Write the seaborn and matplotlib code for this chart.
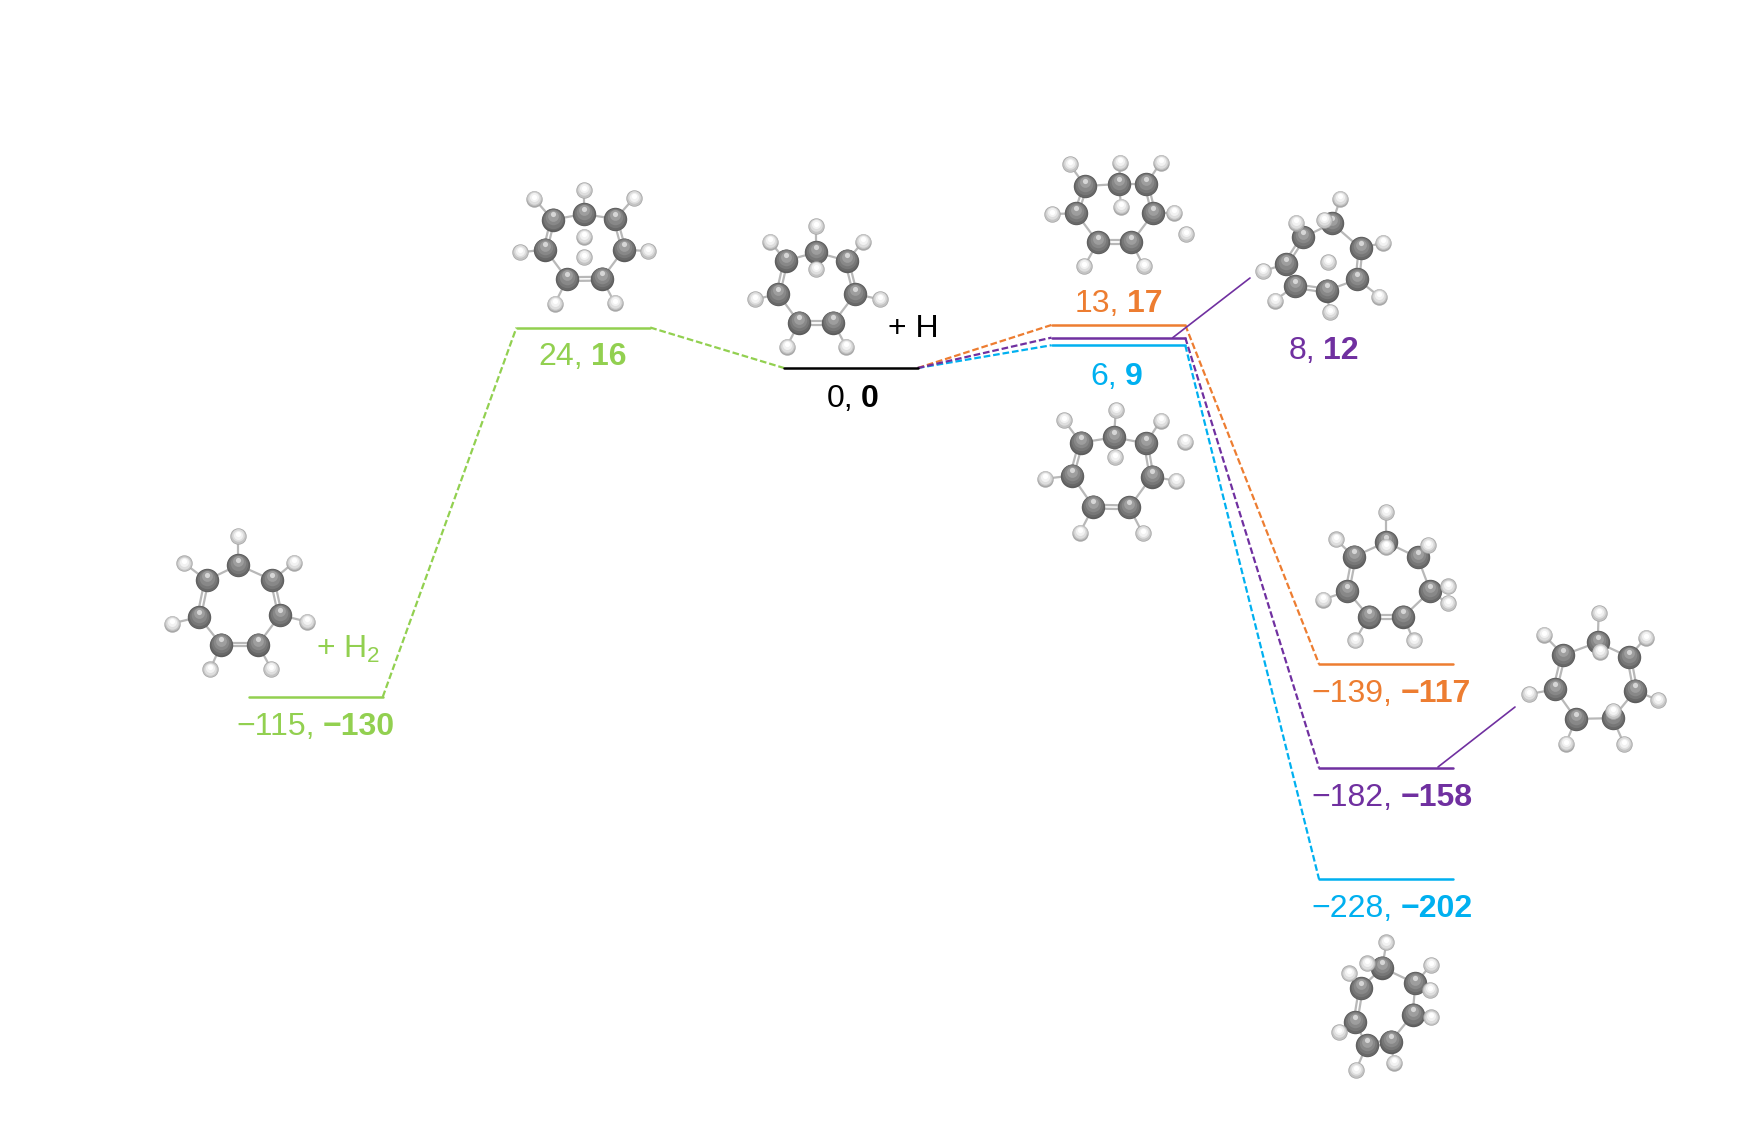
import matplotlib
matplotlib.use("Agg")
import matplotlib.pyplot as plt
import numpy as np
import pandas as pd
import seaborn as sns

# ---------- energies ----------
level_stage = [0, 1, 2, 3, 3, 3, 4, 4, 4]
first_value = [-115, 24, 0, 13, 8, 6, -139, -182, -228]
second_value = [-130, 16, 0, 17, 12, 9, -117, -158, -202]
level_hue = ["green", "green", "black", "orange", "purple", "blue", "orange", "purple", "blue"]
connect_from = [0, 1, 2, 2, 2, 3, 4, 5]
connect_to = [1, 2, 5, 3, 4, 6, 7, 8]
connect_hue = ["green", "green", "blue", "orange", "purple", "orange", "purple", "blue"]

palette = {"green": "#92D050", "orange": "#ED7D31", "purple": "#7030A0",
           "blue": "#00B0F0", "black": "#000000"}

# ---------- scales of the diagram ----------
W, H = 1762, 1142
STAGE_PX, STAGE_X0, LEVEL_W = 267.5, 249.0, 0.5
UNIT_PX, ZERO_Y = 2.53, 368.0


def sx(px):
    return (np.asarray(px, dtype=float) - STAGE_X0) / STAGE_PX


def sy(py):
    return (ZERO_Y - np.asarray(py, dtype=float)) / UNIT_PX


# ---------- label placement (split x, baseline y) ----------
label_split = [323, 591, 861, 1127, 1323, 1125, 1400.7, 1400.7, 1400.7]
label_base = [735, 365, 407, 312, 359, 385, 702, 806.4, 916.8]

# ---------- molecules ----------
frames = {"a": (150, 170, 2.613, 2.613), "b": (740, 140, 2.23, 3.0), "c": (1250, 500, 3.0, 2.613)}
molecules = [
    ("a", [(231, 1032), (320, 1072), (340, 1163), (282, 1240), (186, 1240), (128, 1168), (148, 1072)],
     [(231, 957, 0), (375, 1026, 1), (410, 1180, 2), (317, 1304, 3), (157, 1305, 4), (57, 1185, 5), (90, 1028, 6)],
     [(1, 2), (3, 4), (5, 6)]),
    ("a", [(1133, 115), (1216, 128), (1238, 208), (1181, 284), (1090, 285), (1033, 208), (1052, 130)],
     [(1133, 52, 0), (1264, 74, 1), (1302, 212, 2), (1214, 347, 3), (1058, 349, 4), (968, 215, 5), (1004, 75, 6),
      (1133, 174, None), (1133, 227, None)],
     [(1, 2), (3, 4), (5, 6)]),
    ("b", [(170, 337), (238, 362), (257, 462), (208, 548), (132, 548), (85, 462), (102, 362)],
     [(170, 258, 0), (275, 305, 1), (312, 478, 2), (237, 620, 3), (104, 620, 4), (34, 478, 5), (67, 305, 6),
      (170, 387, 0)],
     [(1, 2), (3, 4), (5, 6)]),
    ("b", [(845, 132), (906, 132), (922, 220), (873, 307), (798, 307), (750, 220), (770, 138)],
     [(848, 68, 0), (938, 68, 1), (967, 218, 2), (900, 378, 3), (768, 378, 4), (696, 222, 5), (735, 73, 6),
      (850, 200, 0), (994, 282, None)],
     [(1, 2), (3, 4), (5, 6)]),
    ("b", [(834, 892), (905, 910), (918, 1010), (868, 1102), (788, 1100), (740, 1007), (760, 908)],
     [(838, 810, 0), (938, 842, 1), (972, 1022, 2), (898, 1180, 3), (758, 1178, 4), (680, 1016, 5), (722, 840, 6),
      (836, 952, 0), (992, 905, None)],
     [(1, 2), (3, 4), (5, 6)]),
    ("b", [(1320, 250), (1384, 325), (1377, 418), (1308, 452), (1237, 438), (1217, 372), (1256, 292)],
     [(1339, 176, 0), (1302, 240, 0), (1434, 308, 1), (1426, 470, 2), (1315, 516, 3), (1192, 482, 4),
      (1167, 393, 5), (1240, 248, 6), (1312, 366, None)],
     [(1, 2), (3, 4), (5, 6)]),
    ("c", [(408, 110), (503, 150), (541, 238), (460, 305), (357, 305), (292, 238), (312, 148)],
     [(408, 32, 0), (407, 122, 0), (535, 118, 1), (593, 226, 2), (593, 270, 2), (491, 367, 3), (315, 367, 4),
      (220, 260, 5), (257, 103, 6)],
     [(3, 4), (5, 6)]),
    ("c", [(1043, 372), (1137, 410), (1156, 498), (1088, 570), (978, 572), (915, 495), (940, 405)],
     [(1046, 296, 0), (1050, 396, 0), (1187, 360, 1), (1224, 523, 2), (1088, 552, 3), (1122, 638, 3),
      (947, 637, 4), (837, 507, 5), (881, 352, 6)],
     [(1, 2), (5, 6)]),
    ("c", [(397, 1222), (496, 1263), (488, 1345), (422, 1415), (350, 1425), (316, 1365), (333, 1275)],
     [(409, 1156, 0), (350, 1211, 0), (543, 1215, 1), (541, 1280, 1), (543, 1352, 2), (432, 1470, 3),
      (318, 1490, 4), (266, 1390, 5), (296, 1237, 6)],
     [(3, 4), (5, 6)]),
]
leader_px = [((1172.7, 337.7), (1250, 278)), ((1438, 767), (1515, 707))]

# ---------- tables ----------
levels = pd.DataFrame(
    [{"id": i, "stage": s + d, "energy": e, "hue": h}
     for i, (s, e, h) in enumerate(zip(level_stage, second_value, level_hue))
     for d in (0, LEVEL_W)])
links = pd.DataFrame(
    [row for k, (a, b, h) in enumerate(zip(connect_from, connect_to, connect_hue))
     for row in ({"id": k, "stage": level_stage[a] + LEVEL_W, "energy": second_value[a], "hue": h},
                 {"id": k, "stage": level_stage[b], "energy": second_value[b], "hue": h})])

carbon_rows, hydrogen_rows, bond_rows = [], [], []
bond_id = 0


def add_bond(p, q, offset=0.0):
    global bond_id
    p, q = np.array(p, float), np.array(q, float)
    d = q - p
    n = np.array([-d[1], d[0]]) / np.hypot(*d)
    for pt in (p + n * offset, q + n * offset):
        bond_rows.append({"id": bond_id, "x": pt[0], "y": pt[1]})
    bond_id += 1


for frame, cs, hs, doubles in molecules:
    x0, y0, fx, fy = frames[frame]
    full = [(x0 + a / fx, y0 + b / fy) for a, b in cs]
    carbon_rows += [{"x": a, "y": b} for a, b in full]
    for j in range(7):
        k = (j + 1) % 7
        pair = (min(j, k), max(j, k))
        if pair in doubles:
            add_bond(full[j], full[k], 1.9)
            add_bond(full[j], full[k], -1.9)
        else:
            add_bond(full[j], full[k])
    for a, b, owner in hs:
        pt = (x0 + a / fx, y0 + b / fy)
        hydrogen_rows.append({"x": pt[0], "y": pt[1]})
        if owner is not None:
            add_bond(full[owner], pt)

carbons = pd.DataFrame(carbon_rows)
hydrogens = pd.DataFrame(hydrogen_rows)
bonds = pd.DataFrame(bond_rows)

# ---------- figure ----------
sns.set_theme(style="white")
plt.rcParams["font.family"] = ["Liberation Sans", "DejaVu Sans"]
plt.rcParams["mathtext.default"] = "regular"

fig = plt.figure(figsize=(W / 100, H / 100), dpi=100, facecolor="white")
ax = fig.add_axes([0, 0, 1, 1])
ax.set_xlim(float(sx(0)), float(sx(W)))
ax.set_ylim(float(sy(H)), float(sy(0)))
ax.axis("off")

order = ["green", "black", "blue", "orange", "purple"]
sns.lineplot(data=links, x="stage", y="energy", hue="hue", hue_order=order, palette=palette, units="id",
             estimator=None, sort=False, legend=False, lw=1.6, linestyle=(0, (3.0, 1.3)), ax=ax, zorder=2)
sns.lineplot(data=levels, x="stage", y="energy", hue="hue", hue_order=order, palette=palette, units="id",
             estimator=None, sort=False, legend=False, lw=1.8, ax=ax, zorder=3)
for p, q in leader_px:
    ax.plot(sx([p[0], q[0]]), sy([p[1], q[1]]), color=palette["purple"], lw=1.2, zorder=3)

# bonds
bond_plot = bonds.assign(x=sx(bonds["x"]), y=sy(bonds["y"]))
sns.lineplot(data=bond_plot, x="x", y="y", units="id", estimator=None, sort=False, legend=False,
             color="#b8b8b8", lw=1.6, ax=ax, zorder=4)


def spheres(table, layers, z):
    for size, colour, (dx, dy) in layers:
        sns.scatterplot(x=sx(table["x"] + dx), y=sy(table["y"] + dy), s=size, color=colour,
                        linewidth=0, legend=False, ax=ax, zorder=z)


spheres(carbons, [(285, "#5c5c5c", (0, 0)), (250, "#686868", (0, -0.4)), (195, "#777777", (0, -1.2)),
                  (125, "#888888", (0, -2.4)), (60, "#9e9e9e", (0, -3.8)), (14, "#d6d6d6", (0, -5.4))], 5)
spheres(hydrogens, [(140, "#a8a8a8", (0, 0)), (115, "#c4c4c4", (0, -0.3)), (80, "#dedede", (0, -0.9)),
                    (42, "#f2f2f2", (0, -1.6)), (14, "#ffffff", (0, -2.2))], 6)

# labels


def fmt(v):
    return str(v).replace("-", "\u2212")


SIZE = 23
for a, b, h, xs, yb in zip(first_value, second_value, level_hue, label_split, label_base):
    c = palette[h]
    ax.text(float(sx(xs - 8)), float(sy(yb)), fmt(a) + ",", color=c, fontsize=SIZE, ha="right",
            va="baseline", zorder=7)
    ax.text(float(sx(xs)), float(sy(yb)), fmt(b), color=c, fontsize=SIZE, fontweight="bold", ha="left",
            va="baseline", zorder=7)
ax.text(float(sx(888)), float(sy(336.7)), "+ H", color="black", fontsize=SIZE, ha="left", va="baseline", zorder=7)
ax.text(float(sx(316)), float(sy(658)), "+ H$_2$", color=palette["green"], fontsize=SIZE, ha="left",
        va="baseline", zorder=7)

fig.savefig("out.png", dpi=100, facecolor="white")
